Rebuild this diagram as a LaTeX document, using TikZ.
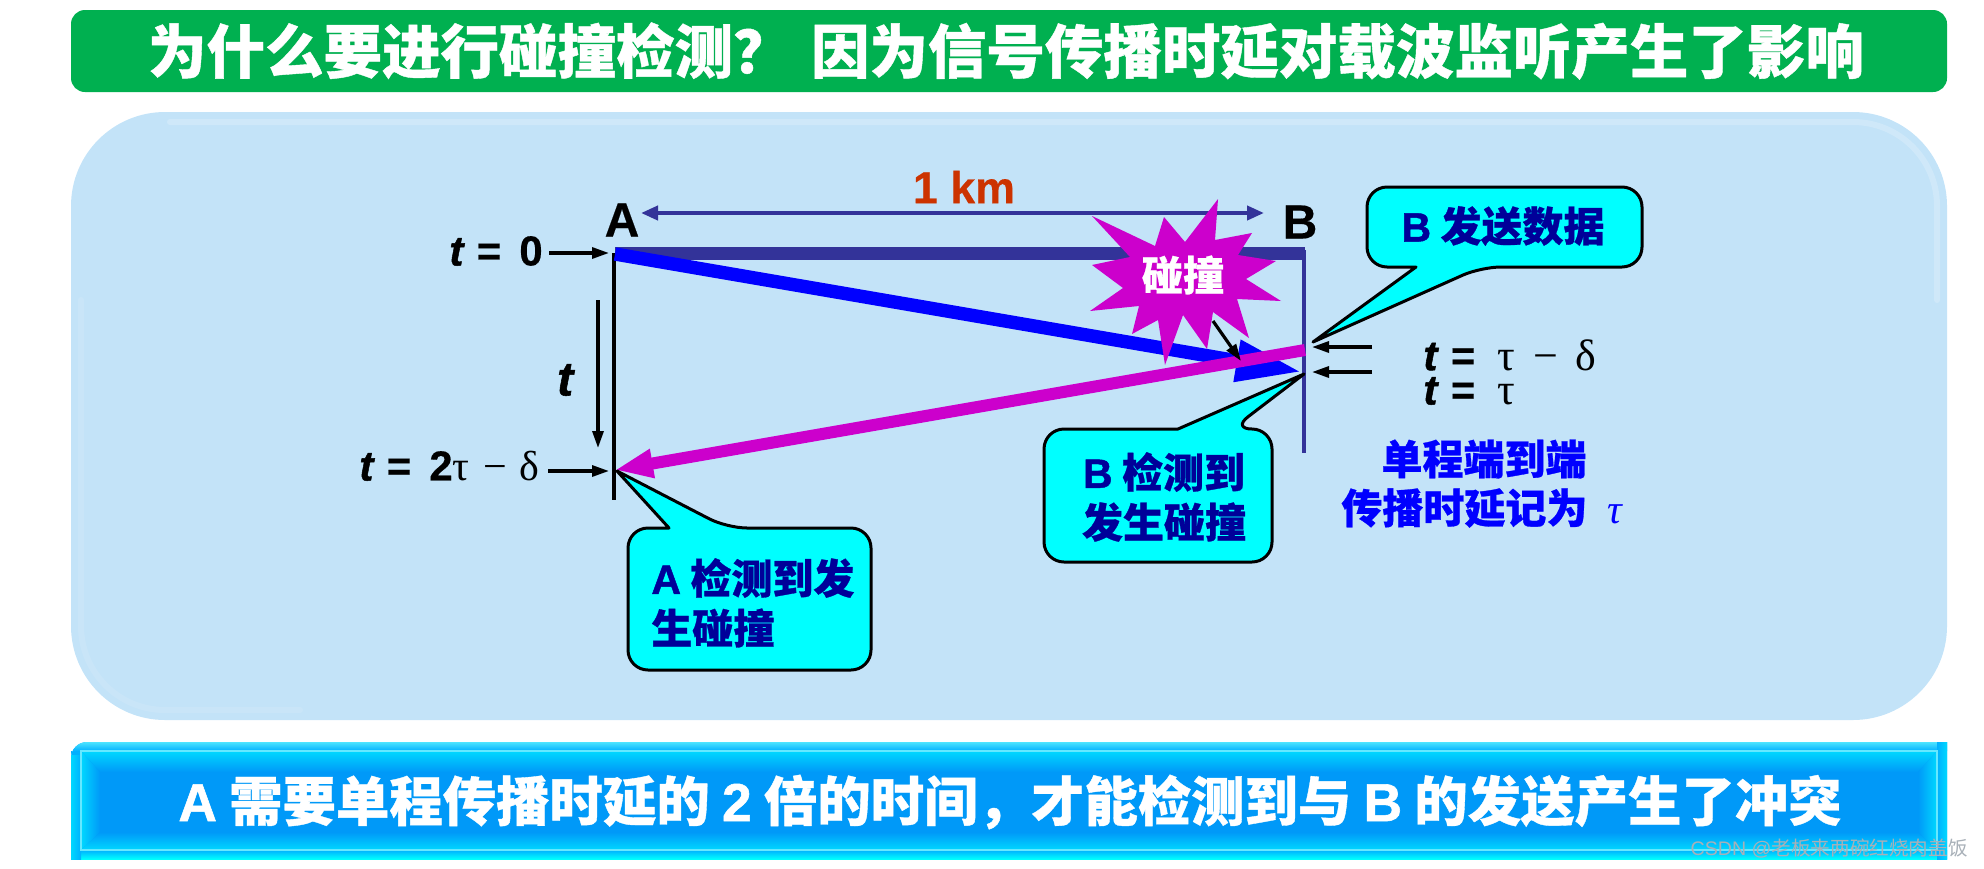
\documentclass[tikz,border=0pt]{standalone}
\usepackage{fontspec}
\setmainfont{Liberation Sans}[BoldFeatures={FakeBold=0.4}, BoldItalicFeatures={FakeBold=1.2}]
\newfontfamily\latheavy{Liberation Sans}[BoldFeatures={FakeBold=1.1}]
\newfontfamily\cjk{Noto Sans CJK SC}[BoldFeatures={FakeBold=0.7}]
\newfontfamily\greekfont{Liberation Serif}
\usetikzlibrary{arrows.meta}
\definecolor{titlegreen}{HTML}{00B050}
\definecolor{panelblue}{HTML}{C3E3F8}
\definecolor{barblue}{HTML}{0099F8}
\definecolor{barglow}{HTML}{00D8FF}
\definecolor{baredge}{HTML}{00B0FF}
\definecolor{linkblue}{HTML}{333399}
\definecolor{textblue}{HTML}{000099}
\definecolor{kmred}{HTML}{CC3300}
\definecolor{hitpurple}{HTML}{CC00CC}
\definecolor{callcyan}{HTML}{00FFFF}
\definecolor{markgrey}{HTML}{A8B0B8}
\tikzset{
  bigtext/.style={font=\fontsize{29.25}{32}\selectfont\bfseries\cjk, text=white, inner sep=0pt},
  timelabel/.style={font=\fontsize{21}{24}\selectfont\bfseries, text=black, inner sep=0pt, anchor=west},
  endlabel/.style={font=\fontsize{24}{26}\selectfont\bfseries, inner sep=0pt},
  calltext/.style={font=\fontsize{20.5}{25}\selectfont\bfseries\cjk, text=textblue, inner sep=0pt},
  bluetext/.style={font=\fontsize{20.5}{25}\selectfont\bfseries\cjk, text=blue, inner sep=0pt},
  callbox/.style={fill=callcyan, draw=black, line width=1.5pt, line join=round},
  smallarrow/.style={-{Triangle[length=8.5pt,width=5.5pt]}, line width=1.6pt, black},
}
\newcommand{\lat}[1]{{\latheavy #1}}
\newcommand{\gk}[1]{{\greekfont\mdseries #1}}
\begin{document}
\begin{tikzpicture}[x=0.5pt, y=-0.5pt, >=Stealth]
\useasboundingbox (0,0) rectangle (1984,868);
\fill[titlegreen, rounded corners=7pt] (71,10) rectangle (1947,92);
\fill[panelblue, rounded corners=47pt] (71,112) rectangle (1947,720);
% soft highlight along the panel edge
\draw[white, opacity=0.2, line width=3pt, line cap=round, rounded corners=42pt] (170,122) -- (1937,122) -- (1937,300);
\draw[white, opacity=0.1, line width=3pt, line cap=round, rounded corners=42pt] (81,300) -- (81,710) -- (300,710);

% bottom bar with its bevel
\fill[baredge] [rounded corners=8pt] (71,859) -- (71,742) -- (300,742) [sharp corners] -- (1947,742) -- (1947,859) -- cycle;
\shade[top color=barglow!70!white, bottom color=baredge, rounded corners=8pt] (71,751) -- (71,742) -- (300,742) [sharp corners] -- (1947,742) -- (1947,751) -- cycle;
\shade[top color=baredge, bottom color=callcyan] (71,850) rectangle (1947,859);
\shade[left color=barglow, right color=baredge] (71,755) rectangle (81,859);
\shade[left color=baredge, right color=barglow] (1937,742) rectangle (1947,859);
\fill[barblue] (81,751) rectangle (1937,850);
\shade[top color=barglow, bottom color=barblue] (81,751) -- (1937,751) -- (1918,772) -- (100,772) -- cycle;
\shade[top color=barblue, bottom color=barglow] (100,832) -- (1918,832) -- (1937,850) -- (81,850) -- cycle;
\shade[left color=barglow, right color=barblue] (81,751) -- (100,772) -- (100,832) -- (81,850) -- cycle;
\shade[left color=barblue, right color=barglow] (1918,772) -- (1937,751) -- (1937,850) -- (1918,832) -- cycle;
\draw[barglow!60!white, line width=0.6pt] (81,751) rectangle (1937,850);

\node[bigtext] (title) at (1006,51) {为什么要进行碰撞检测？\hspace{3pt} 因为信号传播时延对载波监听产生了影响};
\node[bigtext, font=\fontsize{26.7}{30}\selectfont\bfseries\cjk] (summary) at (1010,802) {\lat{A} 需要单程传播时延的 \lat{2} 倍的时间，才能检测到与 \lat{B} 的发送产生了冲突};
\node[font=\fontsize{9.8}{11}\selectfont\cjk, text=markgrey, anchor=east, inner sep=0pt] (mark) at (1968,849) {{\rmfamily CSDN @}老板来两碗红烧肉盖饭};

% link
\coordinate (a) at (615,254);
\coordinate (b) at (1304,254);
\coordinate (bend) at (1304,453);
\coordinate (aend) at (614,500);
\coordinate (kmleft) at (641,213);
\coordinate (kmright) at (1264,213);
\fill[linkblue] (615,247) rectangle (1305,260);
\draw[linkblue, line width=1.8pt] (1304,250) -- (bend);
\draw[black, line width=1.8pt] (614,253) -- (aend);
\node[endlabel] (labela) at (622,220) {A};
\node[endlabel] (labelb) at (1300,222) {B};
\draw[linkblue, line width=2pt, {Triangle[length=8.5pt,width=7pt]}-{Triangle[length=8.5pt,width=7pt]}] (kmleft) -- (kmright);
\node[font=\fontsize{22.4}{24}\selectfont\bfseries, text=kmred, inner sep=0pt] (km) at (964,187) {1 km};

% signals
\coordinate (bhit) at (1302,372);
\coordinate (breply) at (1305,350);
\coordinate (atip) at (615,470);
\draw[blue, line width=6.7pt, -{Triangle[length=33pt,width=19.5pt]}] (a) -- (bhit);
\fill[hitpurple] (1218,199) -- (1215,240) -- (1252,233) -- (1238,255) -- (1276,261) -- (1246,279) -- (1281,301) -- (1237,299) -- (1249,338) -- (1213,312) -- (1207,349) -- (1183,315) -- (1165,365) -- (1158,320) -- (1132,334) -- (1139,306) -- (1090,311) -- (1123,288) -- (1092,265) -- (1130,257) -- (1092,216) -- (1155,246) -- (1164,217) -- (1185,242) -- cycle;
\node[font=\fontsize{20.5}{24}\selectfont\bfseries\cjk, text=white, inner sep=0pt] (hit) at (1183,275) {碰撞};
\draw[hitpurple, line width=6pt, -{Triangle[length=19pt,width=13.5pt]}] (breply) -- (atip);
\coordinate (hitfrom) at (1213,321);
\coordinate (hitto) at (1241,361);
\draw[smallarrow] (hitfrom) -- (hitto);

% time labels
\node[timelabel] (t0) at (449,251) {\textit{t}\hspace{6pt}=\hspace{9pt}0};
\node[endlabel] (tt) at (566,380) {\textit{t}};
\node[timelabel] (t2) at (359,466) {\textit{t}\hspace{6pt}=\hspace{9pt}2\gk{τ}\hspace{7pt}\gk{−}\hspace{6pt}\gk{δ}};
\node[timelabel] (t3) at (1423,355) {\textit{t}\hspace{6pt}=\hspace{11pt}{\fontsize{22}{24}\selectfont\gk{τ}\hspace{9pt}\gk{−}\hspace{9pt}\gk{δ}}};
\node[timelabel] (t4) at (1423,391) {\textit{t}\hspace{6pt}=\hspace{11pt}{\fontsize{22}{24}\selectfont\gk{τ}}};
\coordinate (t0to) at (609,253);
\coordinate (t2from) at (548,471);
\coordinate (t2to) at (609,471);
\coordinate (ttfrom) at (598,300);
\coordinate (ttto) at (598,448);
\coordinate (t3from) at (1372,347);
\coordinate (t3to) at (1312,347);
\coordinate (t4from) at (1372,372);
\coordinate (t4to) at (1312,372);
\draw[smallarrow] (t0.east |- t0to) ++(6,0) -- (t0to);
\draw[smallarrow] (ttfrom) -- (ttto);
\draw[smallarrow] (t2from) -- (t2to);
\draw[smallarrow] (t3from) -- (t3to);
\draw[smallarrow] (t4from) -- (t4to);
\node[bluetext] (oneway) at (1484,459) {单程端到端};
\node[bluetext, anchor=west] (delay) at (1341,508) {传播时延记为\hspace{10pt}{\greekfont\mdseries\itshape τ}};

% callouts
\coordinate (sendtip) at (1313,342);
\coordinate (detectbtip) at (1304,374);
\coordinate (detectatip) at (617,471);
\draw[callbox] [rounded corners=10pt] (1500,187) -- (1642,187) -- (1642,267) -- (1481,267) [sharp corners] -- (sendtip) -- (1416,267) [rounded corners=10pt] -- (1367,267) -- (1367,187) -- cycle;
\node[calltext] (sendb) at (1503,226) {\lat{B} 发送数据};
\draw[callbox] [rounded corners=10pt] (1100,562) -- (1272,562) -- (1272,429) -- (1232,429) [sharp corners] -- (detectbtip) -- (1178,429) [rounded corners=10pt] -- (1044,429) -- (1044,562) -- cycle;
\node[calltext] (detectb1) at (1164,472) {\lat{B} 检测到};
\node[calltext] (detectb2) at (1164,522) {发生碰撞};
\draw[callbox] [rounded corners=10pt] (700,670) -- (871,670) -- (871,528) -- (727,528) [sharp corners] -- (detectatip) -- (669,528) [rounded corners=10pt] -- (628,528) -- (628,670) -- cycle;
\node[calltext, anchor=west] (detecta1) at (651,578) {\lat{A} 检测到发};
\node[calltext, anchor=west] (detecta2) at (651,628) {生碰撞};
\end{tikzpicture}
\end{document}
